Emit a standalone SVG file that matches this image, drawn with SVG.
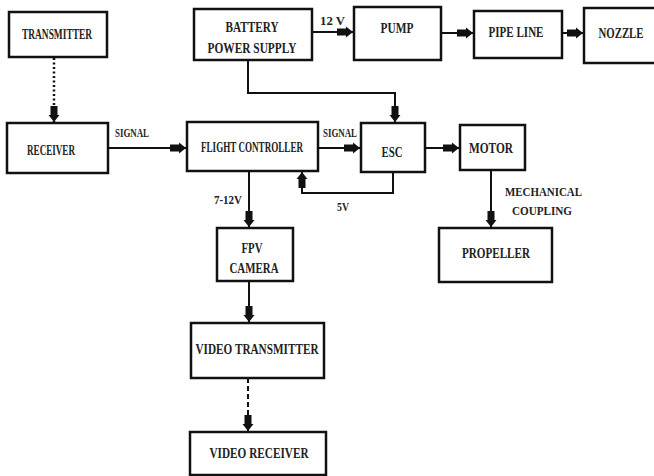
<svg xmlns="http://www.w3.org/2000/svg" width="654" height="476" viewBox="0 0 654 476">
<style>
.box{fill:#fff;stroke:#111;stroke-width:2.5}
.ln{fill:none;stroke:#111;stroke-width:2;marker-end:url(#ah)}
.t{font-family:"Liberation Serif","Times New Roman",serif;font-weight:bold;font-size:15px;fill:#222;text-anchor:middle}
.s{font-family:"Liberation Serif","Times New Roman",serif;font-weight:bold;font-size:12.5px;fill:#222}
</style>
<defs>
<marker id="ah" viewBox="-17 -7 18 14" refX="0" refY="0" markerWidth="18" markerHeight="14" markerUnits="userSpaceOnUse" orient="auto">
<path d="M-16,-3.5 L-7,-3.5 L-7,-5.5 L0,0 L-7,5.5 L-7,3.5 L-16,3.5 Z" fill="#111"/>
</marker>
</defs>
<rect width="654" height="476" fill="#fff"/>
<g id="connectors">
<path class="ln" d="M54,58 V122" stroke-dasharray="2,2.5" style="stroke-width:2.5"/>
<path class="ln" d="M108,148 H186"/>
<path class="ln" d="M312,32 H353"/>
<path class="ln" d="M441,33 H473"/>
<path class="ln" d="M562,33 H583"/>
<path class="ln" d="M248,60 V93 H395 V122"/>
<path class="ln" d="M318,148 H360"/>
<path class="ln" d="M393,172 V193 H302 V172"/>
<path class="ln" d="M425,148 H459"/>
<path class="ln" d="M491,170 V227"/>
<path class="ln" d="M249,171 V227"/>
<path class="ln" d="M249,281 V322"/>
<path class="ln" d="M248,378 V431" stroke-dasharray="5,3"/>
<text class="s" x="320" y="25" textLength="25" lengthAdjust="spacingAndGlyphs">12 V</text>
<text class="s" x="115" y="137" textLength="34" lengthAdjust="spacingAndGlyphs">SIGNAL</text>
<text class="s" x="323" y="137" textLength="34" lengthAdjust="spacingAndGlyphs">SIGNAL</text>
<text class="s" x="337" y="211" textLength="12" lengthAdjust="spacingAndGlyphs">5V</text>
<text class="s" x="214" y="204" textLength="28" lengthAdjust="spacingAndGlyphs">7-12V</text>
<text class="s" x="505" y="196" textLength="77" lengthAdjust="spacingAndGlyphs">MECHANICAL</text>
<text class="s" x="512" y="215" textLength="60" lengthAdjust="spacingAndGlyphs">COUPLING</text>
</g>
<g id="transmitter"><rect class="box" x="9" y="12" width="98" height="45"/><text class="t" x="57" y="39" textLength="70" lengthAdjust="spacingAndGlyphs">TRANSMITTER</text></g>
<g id="battery"><rect class="box" x="194" y="9" width="118" height="51"/><text class="t" x="252" y="32" textLength="53" lengthAdjust="spacingAndGlyphs">BATTERY</text><text class="t" x="252" y="53" textLength="89" lengthAdjust="spacingAndGlyphs">POWER SUPPLY</text></g>
<g id="pump"><rect class="box" x="354" y="7" width="87" height="53"/><text class="t" x="397" y="33" textLength="33" lengthAdjust="spacingAndGlyphs">PUMP</text></g>
<g id="pipeline"><rect class="box" x="474" y="11" width="88" height="47"/><text class="t" x="516" y="37" textLength="55" lengthAdjust="spacingAndGlyphs">PIPE LINE</text></g>
<g id="nozzle"><rect class="box" x="584" y="8" width="80" height="55"/><text class="t" x="621" y="38" textLength="45" lengthAdjust="spacingAndGlyphs">NOZZLE</text></g>
<g id="receiver"><rect class="box" x="7" y="123" width="101" height="50"/><text class="t" x="51" y="155" textLength="48" lengthAdjust="spacingAndGlyphs">RECEIVER</text></g>
<g id="flight-controller"><rect class="box" x="187" y="122" width="131" height="49"/><text class="t" x="252" y="152" textLength="102" lengthAdjust="spacingAndGlyphs">FLIGHT CONTROLLER</text></g>
<g id="esc"><rect class="box" x="361" y="123" width="64" height="49"/><text class="t" x="392" y="157" textLength="21" lengthAdjust="spacingAndGlyphs">ESC</text></g>
<g id="motor"><rect class="box" x="460" y="125" width="65" height="45"/><text class="t" x="491" y="153" textLength="44" lengthAdjust="spacingAndGlyphs">MOTOR</text></g>
<g id="propeller"><rect class="box" x="439" y="228" width="113" height="54"/><text class="t" x="496" y="258" textLength="68" lengthAdjust="spacingAndGlyphs">PROPELLER</text></g>
<g id="fpv-camera"><rect class="box" x="217" y="228" width="76" height="53"/><text class="t" x="252" y="253" textLength="21" lengthAdjust="spacingAndGlyphs">FPV</text><text class="t" x="254" y="273" textLength="49" lengthAdjust="spacingAndGlyphs">CAMERA</text></g>
<g id="video-transmitter"><rect class="box" x="191" y="323" width="133" height="55"/><text class="t" x="257" y="354" textLength="123" lengthAdjust="spacingAndGlyphs">VIDEO TRANSMITTER</text></g>
<g id="video-receiver"><rect class="box" x="190" y="432" width="136" height="43"/><text class="t" x="259" y="458" textLength="99" lengthAdjust="spacingAndGlyphs">VIDEO RECEIVER</text></g>
</svg>
